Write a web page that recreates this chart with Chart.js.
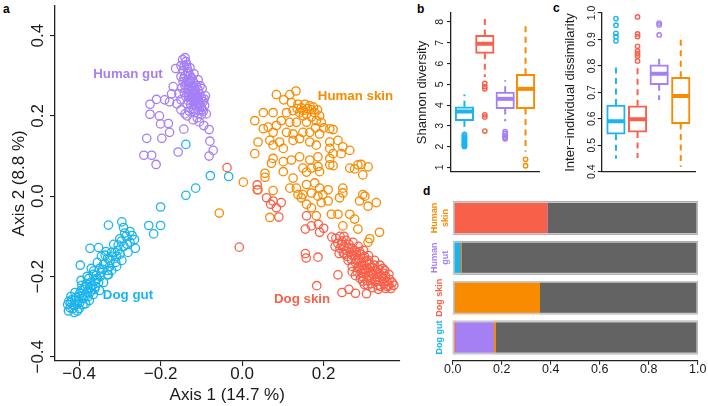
<!DOCTYPE html>
<html>
<head>
<meta charset="utf-8">
<script src="https://cdn.jsdelivr.net/npm/chart.js@4.4.1/dist/chart.umd.min.js"></script>
<style>
body { margin: 0; background: #fff; width: 708px; height: 406px; position: relative; overflow: hidden; font-family: "Liberation Sans", Arial, sans-serif; }
canvas { position: absolute; }
.tag { position: absolute; font-weight: bold; font-size: 12px; line-height: 12px; color: #000; }
</style>
</head>
<body>
<div class="tag" style="left:3px;top:3px">a</div>
<div class="tag" style="left:417px;top:3px">b</div>
<div class="tag" style="left:553px;top:2px">c</div>
<div class="tag" style="left:423px;top:185px">d</div>
<canvas id="pcoa" width="405" height="406" style="left:0;top:0"></canvas>
<canvas id="shannon" width="152" height="185" style="left:400px;top:0"></canvas>
<canvas id="dissim" width="156" height="185" style="left:552px;top:0"></canvas>
<canvas id="sources" width="308" height="221" style="left:400px;top:185px"></canvas>
<script>
const FONT = '"Liberation Sans", Arial, sans-serif';
const INK = '#1a1a1a';

// groups, in the order used by the box plots
const groups = ['Dog gut', 'Dog skin', 'Human gut', 'Human skin'];
const colors = ['#1CB4EC', '#F8604A', '#A57FF4', '#F88B00'];
const unknownColor = '#636363';

// panel a : PCoA coordinates [axis1, axis2]
const dogGut = [
  [-0.138,0.129],[-0.078,0.051],[-0.033,0.049],[-0.114,0.020],[-0.138,0.002],[-0.200,-0.027],
  [-0.229,-0.073],[-0.200,-0.073],[-0.217,-0.094],
  [-0.328,-0.072],[-0.295,-0.064],[-0.291,-0.078],[-0.275,-0.088],[-0.264,-0.108],[-0.262,-0.130],
  [-0.300,-0.106],[-0.285,-0.100],[-0.352,-0.128],[-0.373,-0.130],[-0.397,-0.172],[-0.336,-0.147],
  [-0.320,-0.140],[-0.308,-0.150],[-0.290,-0.125],[-0.280,-0.140],[-0.295,-0.160],[-0.310,-0.165],
  [-0.325,-0.175],[-0.340,-0.170],[-0.345,-0.190],[-0.330,-0.195],[-0.355,-0.205],[-0.365,-0.195],
  [-0.372,-0.215],[-0.360,-0.225],[-0.385,-0.225],[-0.380,-0.240],[-0.395,-0.235],[-0.400,-0.250],
  [-0.390,-0.255],[-0.410,-0.260],[-0.405,-0.270],[-0.420,-0.265],[-0.415,-0.280],[-0.426,-0.286],
  [-0.428,-0.270],[-0.420,-0.250],[-0.410,-0.240],[-0.395,-0.210],[-0.380,-0.200],[-0.370,-0.180],
  [-0.355,-0.165],[-0.345,-0.150],[-0.330,-0.155],[-0.315,-0.120],[-0.305,-0.135],[-0.320,-0.185],
  [-0.340,-0.215],[-0.350,-0.235],[-0.365,-0.245],[-0.375,-0.260],[-0.390,-0.270],[-0.400,-0.280],
  [-0.412,-0.290],[-0.385,-0.250],[-0.398,-0.265],[-0.360,-0.210],[-0.372,-0.228],[-0.350,-0.180],
  [-0.328,-0.196],[-0.275,-0.115],[-0.300,-0.145],
  [-0.422,-0.278],[-0.418,-0.258],[-0.412,-0.272],[-0.408,-0.252],[-0.402,-0.262],[-0.398,-0.242],
  [-0.392,-0.248],[-0.388,-0.232],[-0.382,-0.218],[-0.378,-0.250],[-0.372,-0.238],[-0.368,-0.222],
  [-0.362,-0.232],[-0.358,-0.198],[-0.352,-0.215],[-0.348,-0.200],[-0.342,-0.182],[-0.336,-0.168],
  [-0.330,-0.185],[-0.324,-0.160],[-0.318,-0.150],[-0.312,-0.140],[-0.304,-0.122],[-0.296,-0.112],
  [-0.288,-0.092],[-0.282,-0.120],[-0.270,-0.098],[-0.425,-0.262],[-0.404,-0.286],[-0.384,-0.268],
  [-0.393,-0.222],[-0.376,-0.205],[-0.364,-0.186],[-0.334,-0.138],[-0.308,-0.175]
];
const dogSkin = [
  [0.230,-0.105],[0.240,-0.100],[0.235,-0.118],[0.245,-0.112],[0.250,-0.125],[0.240,-0.130],
  [0.255,-0.135],[0.262,-0.120],[0.248,-0.142],[0.258,-0.150],[0.265,-0.140],[0.270,-0.130],
  [0.275,-0.148],[0.268,-0.158],[0.280,-0.140],[0.285,-0.155],[0.278,-0.165],[0.290,-0.145],
  [0.292,-0.165],[0.286,-0.175],[0.298,-0.155],[0.300,-0.172],[0.295,-0.182],[0.305,-0.162],
  [0.308,-0.180],[0.302,-0.190],[0.312,-0.170],[0.315,-0.188],[0.310,-0.198],[0.320,-0.178],
  [0.322,-0.195],[0.318,-0.205],[0.328,-0.185],[0.330,-0.200],[0.326,-0.212],[0.336,-0.195],
  [0.338,-0.210],[0.345,-0.205],[0.348,-0.218],[0.355,-0.212],[0.360,-0.222],[0.368,-0.215],
  [0.340,-0.225],[0.332,-0.222],[0.352,-0.230],[0.365,-0.230],[0.260,-0.160],[0.270,-0.175],
  [0.282,-0.188],[0.294,-0.200],[0.306,-0.210],[0.316,-0.218],[0.255,-0.110],[0.272,-0.115],
  [0.285,-0.125],[0.298,-0.135],[0.310,-0.148],[0.325,-0.160],[0.338,-0.172],[0.350,-0.185],
  [0.360,-0.195],[0.345,-0.180],[0.290,-0.205],[0.300,-0.220],[0.278,-0.198],[0.238,-0.143],
  [0.228,-0.125],
  [0.262,-0.128],[0.268,-0.145],[0.276,-0.135],[0.282,-0.160],[0.288,-0.138],[0.294,-0.172],
  [0.300,-0.150],[0.304,-0.185],[0.310,-0.160],[0.314,-0.178],[0.318,-0.192],[0.324,-0.172],
  [0.328,-0.208],[0.334,-0.182],[0.342,-0.198],[0.346,-0.192],[0.352,-0.200],[0.356,-0.225],
  [0.362,-0.208],[0.372,-0.222],[0.292,-0.190],[0.284,-0.178],[0.296,-0.212],[0.308,-0.222],
  [0.320,-0.228],[0.334,-0.232],[0.270,-0.188],[0.252,-0.145],[0.244,-0.120],[0.250,-0.100],
  [0.245,-0.240],[0.262,-0.232],[0.278,-0.242],[0.305,-0.243],[0.183,-0.223],[0.155,-0.143],
  [0.157,-0.154],[0.186,-0.152],[0.235,-0.196],[0.220,-0.102],[0.190,-0.090],[0.187,-0.070],
  [0.170,-0.074],[0.155,-0.082],[0.158,-0.049],[0.060,-0.004],[0.076,-0.012],[0.084,-0.029],
  [0.096,-0.016],[0.037,0.028],[0.037,0.016],[-0.037,0.071],[-0.007,-0.127],[0.070,-0.020],
  [0.090,-0.052],[0.200,-0.080]
];
const humanGut = [
  [-0.163,0.318],[-0.169,0.273],[-0.173,0.255],[-0.210,0.241],[-0.226,0.229],[-0.190,0.240],
  [-0.178,0.235],[-0.226,0.204],[-0.203,0.200],[-0.181,0.181],[-0.200,0.180],[-0.178,0.159],
  [-0.143,0.167],[-0.234,0.144],[-0.197,0.144],[-0.241,0.102],[-0.222,0.102],[-0.211,0.079],
  [-0.157,0.110],[-0.081,0.166],[-0.079,0.137],[-0.071,0.114],[-0.081,0.100],[-0.094,0.176],
  [-0.105,0.185],[-0.120,0.190],[-0.135,0.200],[-0.150,0.215],[-0.160,0.230],
  [-0.140,0.345],[-0.138,0.335],[-0.142,0.325],[-0.135,0.320],[-0.145,0.312],[-0.132,0.310],
  [-0.140,0.300],[-0.128,0.300],[-0.150,0.298],[-0.135,0.290],[-0.122,0.292],[-0.145,0.285],
  [-0.130,0.282],[-0.118,0.282],[-0.140,0.275],[-0.125,0.272],[-0.112,0.275],[-0.148,0.270],
  [-0.133,0.265],[-0.120,0.262],[-0.108,0.265],[-0.142,0.258],[-0.128,0.255],[-0.115,0.252],
  [-0.104,0.255],[-0.138,0.248],[-0.124,0.245],[-0.110,0.243],[-0.100,0.245],[-0.132,0.238],
  [-0.118,0.235],[-0.105,0.232],[-0.095,0.236],[-0.126,0.228],[-0.112,0.225],[-0.100,0.222],
  [-0.092,0.226],[-0.120,0.218],[-0.106,0.214],[-0.095,0.212],[-0.115,0.208],[-0.100,0.203],
  [-0.130,0.212],[-0.125,0.295],[-0.115,0.265],[-0.135,0.230],[-0.150,0.240],[-0.155,0.255],
  [-0.150,0.325],[-0.146,0.340],[-0.128,0.320],[-0.118,0.305],[-0.108,0.290],[-0.098,0.268],
  [-0.090,0.250],[-0.140,0.205],[-0.110,0.195],[-0.088,0.205],
  [-0.137,0.328],[-0.133,0.305],[-0.127,0.288],[-0.121,0.272],[-0.116,0.258],[-0.111,0.248],
  [-0.107,0.238],[-0.103,0.226],[-0.098,0.216],[-0.131,0.252],[-0.126,0.240],[-0.122,0.250],
  [-0.114,0.240],[-0.109,0.230],[-0.143,0.293],[-0.137,0.278],[-0.131,0.268],[-0.118,0.215],
  [-0.093,0.242],[-0.103,0.275]
];
const humanSkin = [
  [0.084,0.253],[0.117,0.253],[0.132,0.262],[0.102,0.240],[0.121,0.233],[0.137,0.229],
  [0.154,0.229],[0.166,0.225],[0.149,0.213],[0.170,0.215],[0.178,0.208],[0.158,0.204],
  [0.141,0.208],[0.125,0.213],[0.109,0.208],[0.076,0.208],[0.052,0.208],[0.031,0.188],
  [0.096,0.188],[0.117,0.184],[0.133,0.184],[0.158,0.184],[0.182,0.188],[0.194,0.184],
  [0.215,0.168],[0.223,0.166],[0.052,0.168],[0.064,0.172],[0.084,0.176],[0.076,0.159],
  [0.109,0.159],[0.125,0.155],[0.149,0.159],[0.166,0.159],[0.190,0.155],[0.039,0.135],
  [0.068,0.139],[0.076,0.127],[0.092,0.135],[0.101,0.119],[0.125,0.139],[0.141,0.143],
  [0.166,0.135],[0.182,0.127],[0.215,0.135],[0.235,0.139],[0.247,0.123],[0.264,0.114],
  [0.243,0.106],[0.223,0.106],[0.215,0.119],[0.031,0.106],[0.076,0.094],[0.072,0.082],
  [0.101,0.086],[0.121,0.090],[0.141,0.098],[0.166,0.090],[0.186,0.098],[0.215,0.094],
  [0.215,0.078],[0.223,0.076],[0.264,0.070],[0.284,0.078],[0.276,0.068],[0.292,0.079],
  [0.309,0.073],[0.296,0.053],[0.056,0.057],[0.056,0.047],[0.101,0.061],[0.125,0.045],
  [0.149,0.070],[0.158,0.060],[0.170,0.070],[0.186,0.074],[0.190,0.061],[0.003,0.035],
  [0.117,0.020],[0.133,0.020],[0.158,0.029],[0.178,0.033],[0.190,0.020],[0.211,0.016],
  [0.247,0.020],[0.247,0.008],[0.296,0.004],[0.149,0.004],[0.170,0.008],[0.198,0.004],
  [0.039,0.016],[0.076,0.014],[0.137,0.004],[0.145,-0.004],[0.158,-0.020],[0.170,-0.029],
  [0.186,0.000],[0.194,-0.016],[0.211,-0.012],[0.239,-0.004],[0.288,-0.012],[0.301,0.000],
  [0.309,-0.025],[0.329,-0.016],[0.068,-0.053],[0.182,-0.049],[0.219,-0.045],[0.235,-0.045],
  [0.264,-0.045],[0.276,-0.057],[0.247,-0.074],[0.284,-0.082],[0.337,-0.090],[0.313,-0.106],
  [0.309,-0.115],[-0.056,-0.042],
  [0.145,0.220],[0.160,0.218],[0.175,0.222],[0.185,0.215],[0.135,0.218],[0.150,0.200],
  [0.170,0.197],[0.190,0.200],[0.200,0.170],[0.180,0.170]
];
const pcoaXTicks = [-0.4, -0.2, 0, 0.2];
const pcoaYTicks = [-0.4, -0.2, 0, 0.2, 0.4];

// panel b : Shannon diversity, [lower whisker, Q1, median, Q3, upper whisker]
const shannonBox = [
  [2.72, 3.25, 3.69, 3.92, 4.51],
  [5.35, 6.49, 6.95, 7.35, 8.20],
  [3.22, 3.83, 4.30, 4.62, 5.20],
  [1.75, 3.83, 4.78, 5.48, 7.89]
];
const shannonOut = [
  [2.58, 2.50, 2.42, 2.35, 2.28, 2.22, 2.16, 2.10, 2.05, 2.01],
  [5.04, 4.89, 4.78, 3.53, 3.43, 2.75],
  [2.72, 2.62, 2.52, 2.44, 2.38],
  [1.39, 1.08]
];
const shannonTicks = [1, 2, 3, 4, 5, 6, 7, 8];

// panel c : inter-individual dissimilarity
const dissimBox = [
  [0.449, 0.542, 0.591, 0.652, 0.800],
  [0.452, 0.550, 0.598, 0.649, 0.794],
  [0.671, 0.729, 0.770, 0.804, 0.843],
  [0.418, 0.582, 0.686, 0.757, 0.917]
];
const dissimOut = [
  [0.979, 0.954, 0.923, 0.911, 0.895],
  [0.985, 0.921, 0.911, 0.874, 0.856, 0.846, 0.837, 0.819],
  [0.962, 0.955, 0.917],
  []
];
const dissimTicks = [0.4, 0.5, 0.6, 0.7, 0.8, 0.9, 1.0];

// panel d : source proportions for each sink (top to bottom)
const sinks = [['Human', 'skin'], ['Human', 'gut'], ['Dog skin'], ['Dog gut']];
const sinkColors = ['#F88B00', '#A57FF4', '#F8604A', '#1CB4EC'];
const fromDogGut    = [0.005, 0.031, 0.005, 0.000];
const fromDogSkin   = [0.380, 0.000, 0.000, 0.011];
const fromHumanGut  = [0.002, 0.000, 0.000, 0.156];
const fromHumanSkin = [0.000, 0.005, 0.350, 0.008];
const fromUnknown   = [0.613, 0.964, 0.645, 0.825];
const propTicks = [0, 0.2, 0.4, 0.6, 0.8, 1.0];

Chart.defaults.font.family = FONT;
Chart.defaults.color = INK;
Chart.defaults.animation = false;
Chart.defaults.events = [];
Chart.defaults.plugins.legend.display = false;
Chart.defaults.plugins.tooltip.enabled = false;

const fmt1 = v => v.toFixed(1).replace('-', '\u2212');

function rotatedTicks(x, size) {
  return {
    id: 'rotatedTicks',
    afterDraw(chart) {
      const ctx = chart.ctx, s = chart.scales.y;
      ctx.save();
      ctx.font = size + 'px ' + FONT;
      ctx.fillStyle = INK;
      ctx.textAlign = 'center';
      ctx.textBaseline = 'middle';
      s.ticks.forEach(t => {
        ctx.save();
        ctx.translate(x, s.getPixelForValue(t.value));
        ctx.rotate(-Math.PI / 2);
        ctx.fillText(t.label, 0, 0);
        ctx.restore();
      });
      ctx.restore();
    }
  };
}

// group names written next to their clouds
const groupLabels = {
  id: 'groupLabels',
  afterDatasetsDraw(chart) {
    const {ctx, scales: {x, y}} = chart;
    const where = [[-0.280, -0.247], [0.147, -0.258], [-0.280, 0.303], [0.278, 0.249]];
    ctx.save();
    ctx.font = 'bold 13.3px ' + FONT;
    ctx.textAlign = 'center';
    ctx.textBaseline = 'middle';
    groups.forEach((g, i) => {
      ctx.fillStyle = colors[i];
      ctx.fillText(g, x.getPixelForValue(where[i][0]), y.getPixelForValue(where[i][1]));
    });
    ctx.restore();
  }
};

function tickGrid(len) {
  return { display: true, drawOnChartArea: false, drawTicks: true, tickLength: len, color: '#222', lineWidth: 1.1 };
}

// ---------- a ----------
const pcoaSets = [dogGut, dogSkin, humanGut, humanSkin];
const drawOrder = [1, 3, 2, 0];
new Chart(document.getElementById('pcoa'), {
  type: 'scatter',
  data: {
    datasets: drawOrder.map(k => ({
      label: groups[k],
      data: pcoaSets[k].map(p => ({ x: p[0], y: p[1] })),
      pointStyle: 'circle',
      pointRadius: 4.2,
      pointBorderWidth: 1.3,
      pointBorderColor: colors[k],
      pointBackgroundColor: 'rgba(0,0,0,0)'
    }))
  },
  options: {
    responsive: false,
    layout: { padding: { top: 0, right: 5, bottom: 0, left: 0 } },
    scales: {
      x: {
        type: 'linear', min: -0.459, max: 0.386,
        afterBuildTicks: s => { s.ticks = pcoaXTicks.map(v => ({ value: v })); },
        afterFit: s => { s.height = 45; },
        ticks: { callback: fmt1, font: { size: 17, lineHeight: 1 }, padding: 0, color: INK, maxRotation: 0 },
        grid: tickGrid(5),
        border: { color: '#222', width: 1.3 },
        title: { display: true, text: 'Axis 1 (14.7 %)', color: INK, font: { size: 17 }, padding: { top: 0, bottom: 0.8 } }
      },
      y: {
        type: 'linear', min: -0.4106, max: 0.475,
        afterBuildTicks: s => { s.ticks = pcoaYTicks.map(v => ({ value: v })); },
        afterFit: s => { s.width = 55; },
        ticks: { display: false, callback: fmt1 },
        grid: tickGrid(5),
        border: { color: '#222', width: 1.3 },
        title: { display: true, text: 'Axis 2 (8.8 %)', color: INK, font: { size: 17 }, padding: { top: 8.8, bottom: 0 } }
      }
    }
  },
  plugins: [rotatedTicks(38.5, 17), groupLabels]
});

// ---------- b, c ----------
function boxDatasets(stats, outliers) {
  const sets = [];
  sets.push({
    type: 'scatter',
    data: stats.map((s, i) => ({ x: i + 1, y: s[2] })),
    pointStyle: 'line', pointRadius: 9, pointBorderWidth: 4,
    pointBorderColor: colors, pointBackgroundColor: colors
  });
  sets.push({
    type: 'bar',
    data: stats.map((s, i) => ({ x: i + 1, y: [s[1], s[3]] })),
    backgroundColor: '#fff', borderColor: colors, borderWidth: 2,
    borderSkipped: false, barThickness: 18.5, grouped: false
  });
  stats.forEach((s, i) => sets.push({
    type: 'line',
    data: [{ x: i + 1, y: s[3] }, { x: i + 1, y: s[4] }, { x: i + 1, y: NaN }, { x: i + 1, y: s[1] }, { x: i + 1, y: s[0] }],
    borderColor: colors[i], borderWidth: 2, borderDash: [6, 4.5], pointRadius: 0, spanGaps: false, fill: false
  }));
  outliers.forEach((o, i) => sets.push({
    type: 'scatter',
    data: o.map(v => ({ x: i + 1, y: v })),
    pointRadius: 2.2, pointBorderWidth: 1.4,
    pointBorderColor: colors[i], pointBackgroundColor: 'rgba(0,0,0,0)'
  }));
  return sets;
}

function boxChart(id, stats, outliers, ticks, yMin, yMax, fmt, title, titlePad, area) {
  new Chart(document.getElementById(id), {
    type: 'bar',
    data: { datasets: boxDatasets(stats, outliers) },
    options: {
      responsive: false,
      layout: { padding: { top: area.top, right: area.right, bottom: 0, left: 0 } },
      scales: {
        x: {
          type: 'linear', min: 0.34, max: 4.66, offset: false,
          afterFit: s => { s.height = area.bottom; },
          ticks: { display: false },
          grid: { display: false, offset: false },
          border: { color: '#222', width: 1.3 }
        },
        y: {
          type: 'linear', min: yMin, max: yMax,
          afterBuildTicks: s => { s.ticks = ticks.map(v => ({ value: v })); },
          afterFit: s => { s.width = area.left; },
          ticks: { display: false, callback: fmt },
          grid: tickGrid(4),
          border: { color: '#222', width: 1.3 },
          title: { display: true, text: title, color: INK, font: { size: 13 }, padding: { top: titlePad, bottom: 0 } }
        }
      }
    },
    plugins: [rotatedTicks(40.5, 10.5)]
  });
}

boxChart('shannon', shannonBox, shannonOut, shannonTicks, 0.78, 8.43, v => String(v),
  'Shannon diversity', 14.2, { top: 10, right: 2, bottom: 11, left: 51 });
boxChart('dissim', dissimBox, dissimOut, dissimTicks, 0.399, 1.0, fmt1,
  'Inter\u2212individual dissimilarity', 10.2, { top: 11, right: 8, bottom: 11.5, left: 49.7 });

// ---------- d ----------
const sources = [fromDogGut, fromDogSkin, fromHumanGut, fromHumanSkin, fromUnknown];
const sourceColors = colors.concat([unknownColor]);
const rowTotal = sinks.map((s, i) => sources.reduce((a, src) => a + src[i], 0));

const sinkLabels = {
  id: 'sinkLabels',
  afterDraw(chart) {
    const ctx = chart.ctx, s = chart.scales.y;
    ctx.save();
    ctx.font = 'bold 9px ' + FONT;
    ctx.textAlign = 'center';
    ctx.textBaseline = 'middle';
    sinks.forEach((lines, i) => {
      ctx.fillStyle = sinkColors[i];
      ctx.save();
      ctx.translate(40, s.getPixelForValue(sinks.length - i));
      ctx.rotate(-Math.PI / 2);
      lines.forEach((t, j) => ctx.fillText(t, 0, (j - (lines.length - 1) / 2) * 11));
      ctx.restore();
    });
    ctx.restore();
  }
};

new Chart(document.getElementById('sources'), {
  type: 'bar',
  data: {
    datasets: [{
      label: 'outline',
      data: rowTotal.map((t, i) => ({ x: t, y: sinks.length - i })),
      stack: 'outline', backgroundColor: 'rgba(0,0,0,0)', borderColor: '#c8c8c8', borderWidth: 1
    }].concat(sources.map((src, k) => ({
      label: k < 4 ? groups[k] : 'Unknown',
      data: src.map((v, i) => ({ x: v, y: sinks.length - i })),
      stack: 'sources', backgroundColor: sourceColors[k], borderWidth: 0
    }))).map(d => Object.assign(d, { barThickness: 32.7, grouped: false, borderSkipped: false }))
  },
  options: {
    responsive: false,
    indexAxis: 'y',
    layout: { padding: { top: 13, right: 10.3, bottom: 0, left: 0 } },
    scales: {
      x: {
        type: 'linear', min: 0, max: 1, stacked: true,
        afterBuildTicks: s => { s.ticks = propTicks.map(v => ({ value: v })); },
        afterFit: s => { s.height = 45.3; },
        ticks: { callback: fmt1, font: { size: 12.5, lineHeight: 1 }, padding: -1, color: INK, maxRotation: 0 },
        grid: tickGrid(4),
        border: { color: '#222', width: 1.3 }
      },
      y: {
        type: 'linear', min: 0.4175, max: 4.502, stacked: true, offset: false,
        afterFit: s => { s.width = 52.7; },
        ticks: { display: false },
        grid: { display: false, offset: false },
        border: { display: false }
      }
    }
  },
  plugins: [sinkLabels]
});
</script>
</body>
</html>
